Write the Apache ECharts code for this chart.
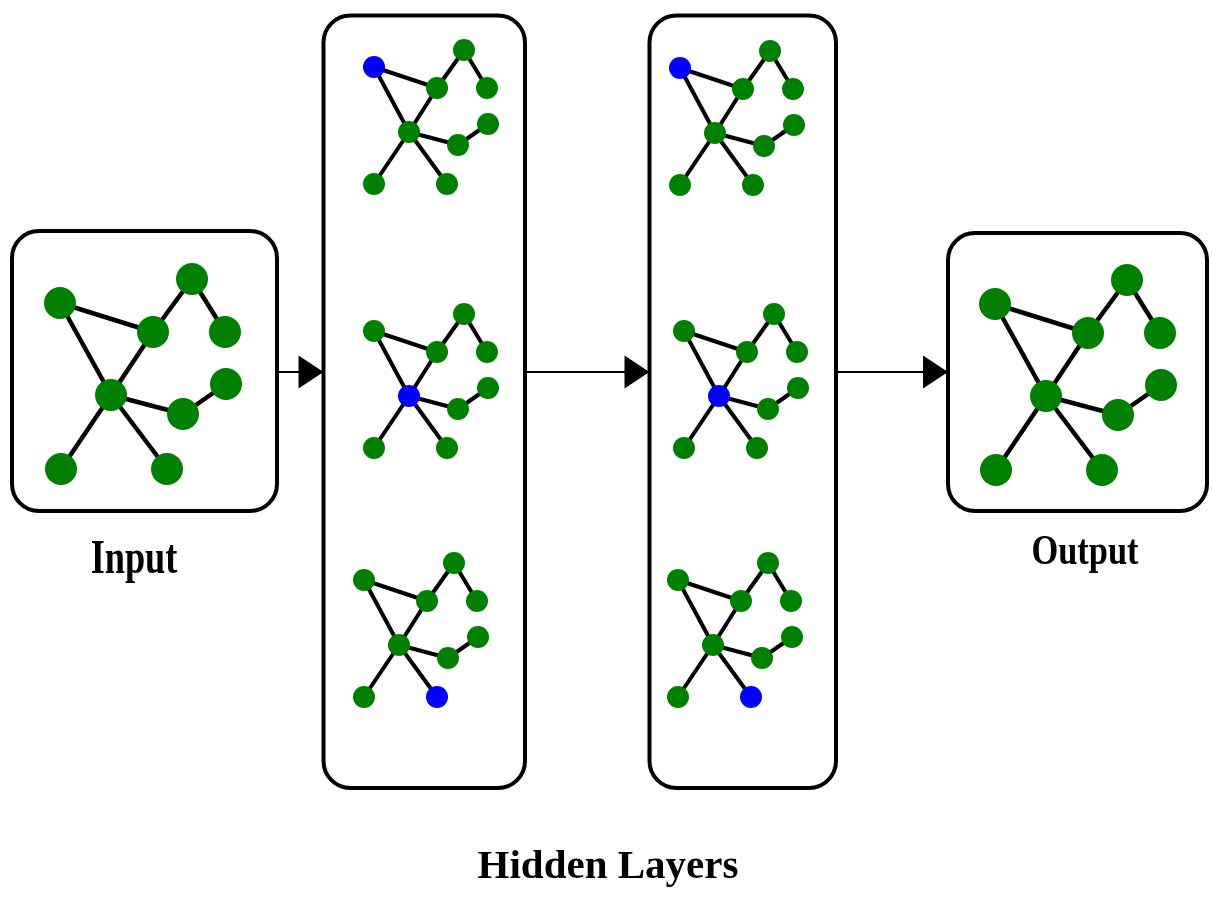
<!DOCTYPE html>
<html>
<head>
<meta charset="utf-8">
<script src="https://cdn.jsdelivr.net/npm/echarts@6/dist/echarts.min.js"></script>
<style>
  html, body { margin: 0; padding: 0; background: #ffffff; }
  #chart { width: 1212px; height: 900px; }
</style>
</head>
<body>
<div id="chart"></div>
<script>
// ---- Graph template: node offsets relative to the hub node (E) ----
const nodeNames = ['A', 'B', 'C', 'D', 'E', 'F', 'G', 'H', 'I'];
const bigOffsetX = [-51, 42, 81, 114, 0, 72, 115, -50, 56];
const bigOffsetY = [-92, -63, -116, -63, 0, 19, -11, 74, 74];
const smallOffsetX = [-35, 28, 55, 78, 0, 49, 79, -35, 38];
const smallOffsetY = [-65, -44, -82, -44, 0, 13, -8, 52, 52];
const edgeSource = [0, 0, 1, 2, 1, 4, 5, 4, 4];
const edgeTarget = [1, 4, 2, 3, 4, 5, 6, 7, 8];

// ---- Graph instances (hub position, size, highlighted node) ----
const instanceName = ['Input', 'H1-1', 'H1-2', 'H1-3', 'H2-1', 'H2-2', 'H2-3', 'Output'];
const instanceCx = [111, 409, 409, 399, 715, 719, 713, 1046];
const instanceCy = [395, 132, 396, 645, 133, 396, 645, 396];
const instanceBig = [true, false, false, false, false, false, false, true];
const instanceBlue = [-1, 0, 4, 8, 0, 4, 8, -1];

// ---- Panels (boxes) ----
const boxName = ['Input', 'Hidden 1', 'Hidden 2', 'Output'];
const boxX0 = [12, 323.5, 649.5, 948];
const boxY0 = [231, 15.5, 15.5, 233];
const boxX1 = [277, 525, 836, 1207];
const boxY1 = [511, 788, 788, 511];

// ---- Arrows ----
const arrowX0 = [277, 525, 836];
const arrowX1 = [323.5, 649.5, 948];
const arrowY = [372, 372, 372];

// ---- Labels ----
const labelText = ['Input', 'Output', 'Hidden Layers'];
const labelX = [134, 1085, 608];
const labelY = [585, 574, 888];
const labelSize = [49, 43, 41];
const labelScaleX = [0.74, 0.8, 1];

const GREEN = '#008000';
const BLUE = '#0000ff';

const chart = echarts.init(document.getElementById('chart'), null, { renderer: 'canvas' });

const series = [];

series.push({
  type: 'custom',
  name: 'boxes',
  coordinateSystem: 'cartesian2d',
  clip: false,
  z: 1,
  silent: true,
  data: boxName.map((n, i) => [boxX0[i], boxY0[i], boxX1[i], boxY1[i]]),
  renderItem: function (params, api) {
    const p0 = api.coord([api.value(0), api.value(1)]);
    const p1 = api.coord([api.value(2), api.value(3)]);
    return {
      type: 'rect',
      shape: { x: p0[0], y: p0[1], width: p1[0] - p0[0], height: p1[1] - p0[1], r: 27 },
      style: { fill: '#ffffff', stroke: '#000000', lineWidth: 4 }
    };
  }
});

series.push({
  type: 'custom',
  name: 'arrows',
  coordinateSystem: 'cartesian2d',
  clip: false,
  z: 2,
  silent: true,
  data: arrowX0.map((x, i) => [x, arrowX1[i], arrowY[i]]),
  renderItem: function (params, api) {
    const a = api.coord([api.value(0), api.value(2)]);
    const b = api.coord([api.value(1), api.value(2)]);
    const headL = 25, headW = 16.5;
    return {
      type: 'group',
      children: [
        { type: 'line', shape: { x1: a[0], y1: a[1], x2: b[0] - headL + 2, y2: b[1] },
          style: { stroke: '#000', lineWidth: 2 } },
        { type: 'polygon', shape: { points: [[b[0], b[1]], [b[0] - headL, b[1] - headW], [b[0] - headL, b[1] + headW]] },
          style: { fill: '#000' } }
      ]
    };
  }
});

instanceName.forEach((name, k) => {
  const big = instanceBig[k];
  const ox = big ? bigOffsetX : smallOffsetX;
  const oy = big ? bigOffsetY : smallOffsetY;
  const nodes = nodeNames.map((nn, j) => ({
    name: nn,
    value: [instanceCx[k] + ox[j], instanceCy[k] + oy[j]],
    itemStyle: { color: j === instanceBlue[k] ? BLUE : GREEN }
  }));
  const links = edgeSource.map((s, e) => ({ source: s, target: edgeTarget[e] }));
  series.push({
    type: 'graph',
    name: name,
    coordinateSystem: 'cartesian2d',
    layout: 'none',
    z: 3,
    silent: true,
    symbol: 'circle',
    symbolSize: big ? 32 : 22,
    data: nodes,
    links: links,
    label: { show: false },
    lineStyle: { color: '#000000', width: big ? 4.5 : 4, opacity: 1, curveness: 0 },
    emphasis: { disabled: true },
    animation: false
  });
});

const option = {
  backgroundColor: '#ffffff',
  animation: false,
  grid: { left: 0, right: 0, top: 0, bottom: 0, containLabel: false },
  xAxis: { type: 'value', min: 0, max: 1212, show: false },
  yAxis: { type: 'value', min: 0, max: 900, inverse: true, show: false },
  graphic: labelText.map((t, i) => ({
    type: 'text',
    x: labelX[i],
    y: labelY[i],
    scaleX: labelScaleX[i],
    z: 10,
    style: {
      text: t,
      fill: '#000000',
      font: 'bold ' + labelSize[i] + 'px "Liberation Serif", "Times New Roman", serif',
      textAlign: 'center',
      textVerticalAlign: 'bottom'
    }
  })),
  series: series
};

chart.setOption(option);
</script>
</body>
</html>
